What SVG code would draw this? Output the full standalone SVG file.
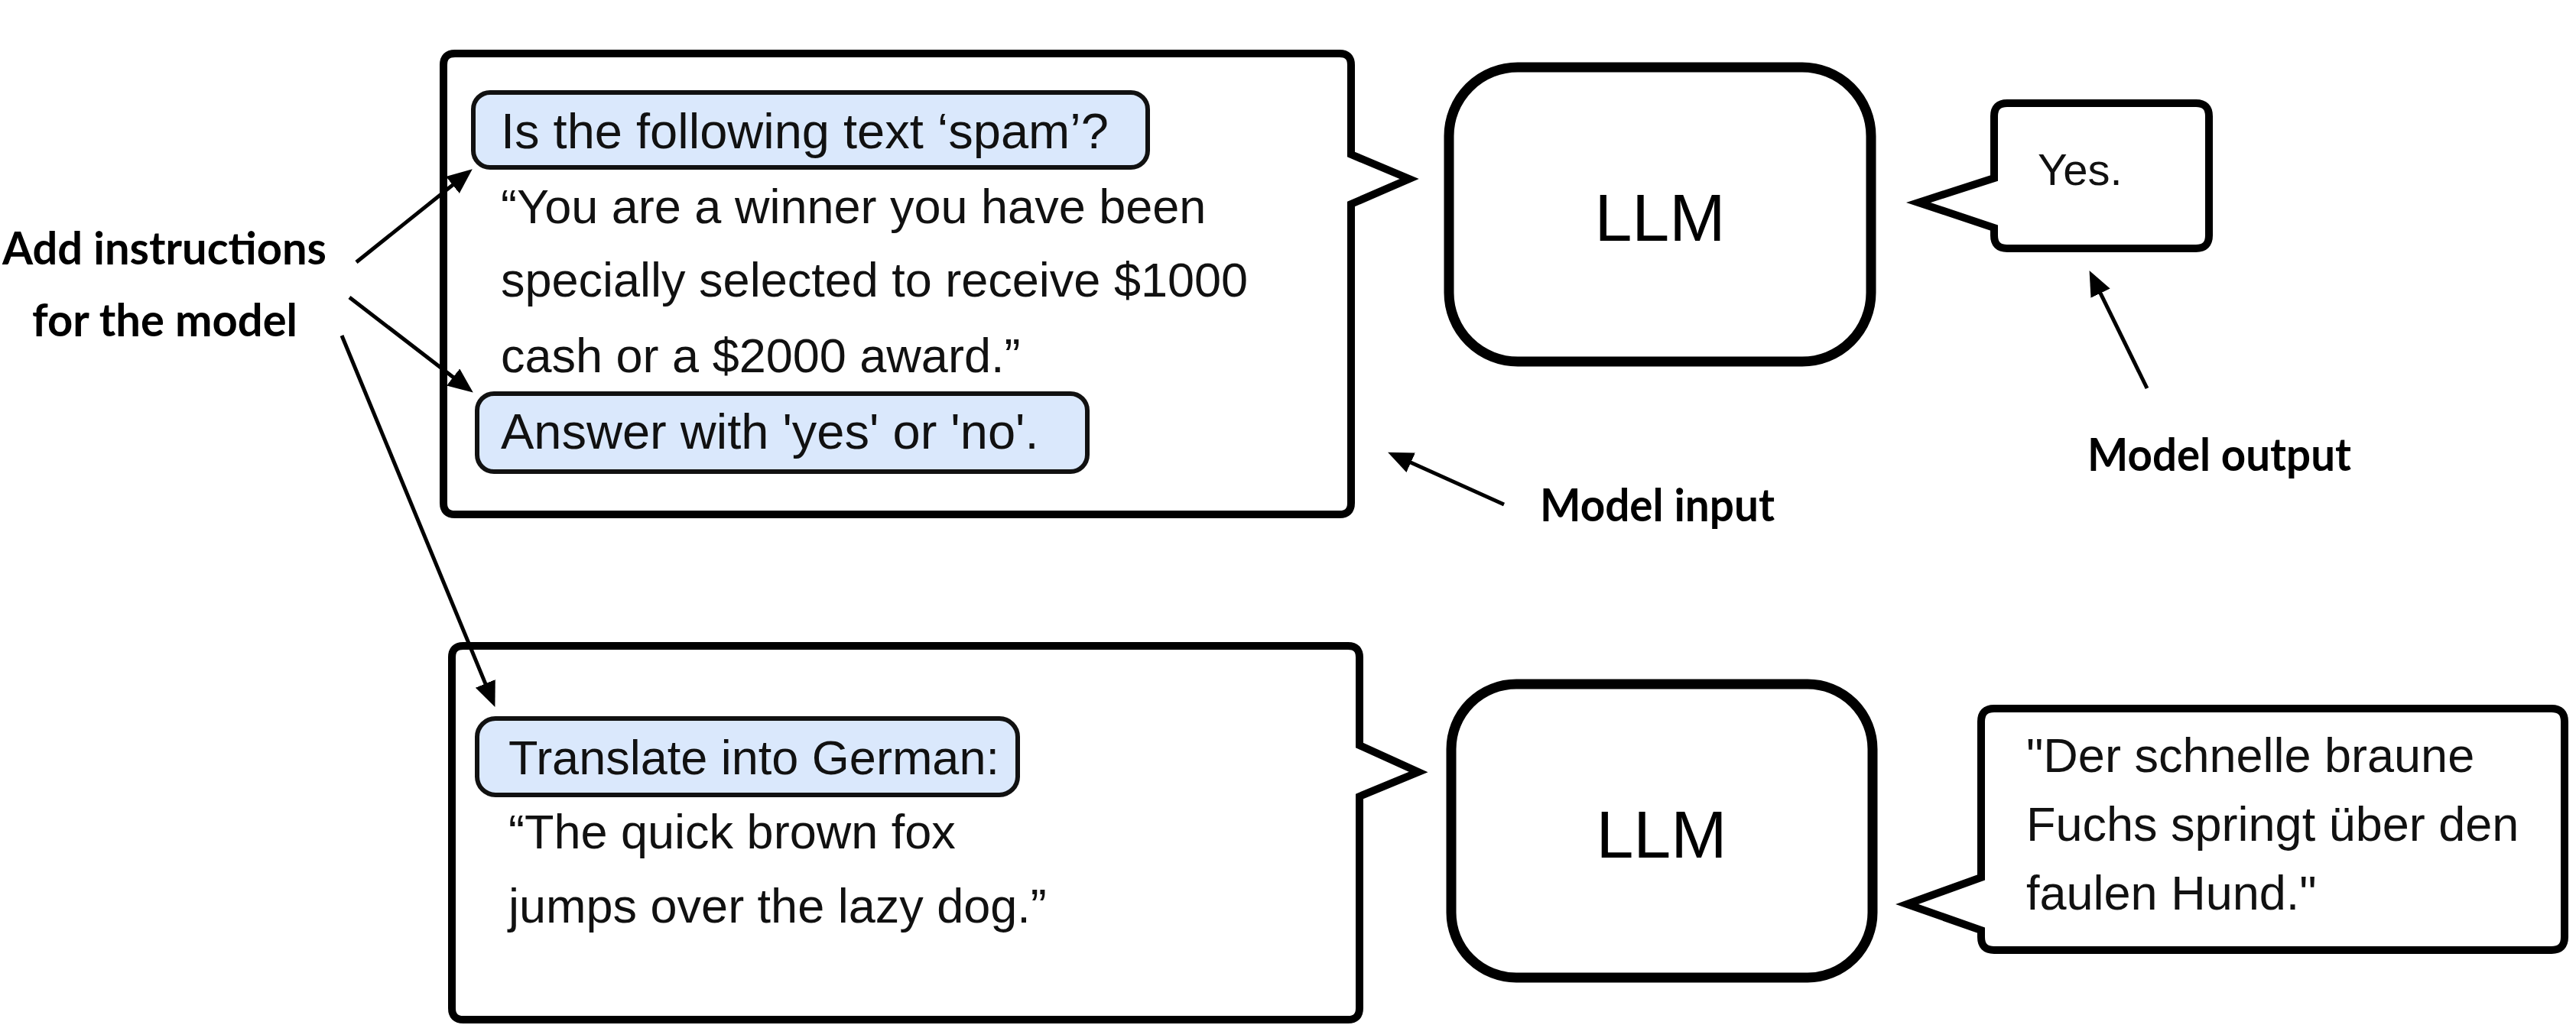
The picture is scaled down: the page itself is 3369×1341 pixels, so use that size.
<svg xmlns="http://www.w3.org/2000/svg" width="3369" height="1341" viewBox="0 0 3369 1341">
  <style>
    .bubble { fill: #ffffff; stroke: #000000; stroke-width: 10; stroke-linejoin: miter; }
    .llm { fill: #ffffff; stroke: #000000; stroke-width: 13; }
    .instr { fill: #dae8fc; stroke: #111111; stroke-width: 6; }
    .t { font-family: "Liberation Sans", Arial, Helvetica, sans-serif; font-size: 63px; fill: #111111; }
    .ti { font-size: 65px; }
    .llmt { font-family: "Liberation Sans", Arial, Helvetica, sans-serif; font-size: 88px; fill: #000000; text-anchor: middle; }
    .lbl { font-family: Lato, "Open Sans", "Liberation Sans", sans-serif; font-weight: 700; font-size: 60px; fill: #000000; }
    .conn { stroke: #000000; stroke-width: 5; fill: none; marker-end: url(#ah); }
  </style>
  <defs>
    <marker id="ah" markerUnits="userSpaceOnUse" markerWidth="36" markerHeight="30" refX="7" refY="14" orient="auto">
      <path d="M0,0 L33,14 L0,28 Z" fill="#000000"/>
    </marker>
  </defs>
  <rect x="0" y="0" width="3369" height="1341" fill="#ffffff"/>

  <g id="label-instructions">
    <text class="lbl" x="3" y="346" textLength="424" lengthAdjust="spacingAndGlyphs">Add instructions</text>
    <text class="lbl" x="42" y="440" textLength="347" lengthAdjust="spacingAndGlyphs">for the model</text>
  </g>

  <g id="input-top">
    <path class="bubble" d="M595,70 H1752 Q1767,70 1767,85 V202 L1843,234 L1767,267 V658 Q1767,673 1752,673 H595 Q580,673 580,658 V85 Q580,70 595,70 Z"/>
    <rect class="instr" x="619" y="121" width="882" height="98" rx="22" ry="22"/>
    <text class="t ti" x="655" y="194">Is the following text ‘spam’?</text>
    <text class="t" x="655" y="292">“You are a winner you have been</text>
    <text class="t" x="655" y="388">specially selected to receive $1000</text>
    <text class="t" x="655" y="487">cash or a $2000 award.”</text>
    <rect class="instr" x="624" y="515" width="798" height="102" rx="22" ry="22"/>
    <text class="t ti" x="655" y="587">Answer with 'yes' or 'no'.</text>
  </g>

  <g id="llm-top">
    <rect class="llm" x="1895" y="88" width="552" height="385" rx="90" ry="90"/>
    <text class="llmt" x="2171" y="315">LLM</text>
  </g>

  <g id="output-top">
    <path class="bubble" d="M2625,135 H2872 Q2889,135 2889,152 V308 Q2889,325 2872,325 H2625 Q2608,325 2608,308 V298 L2509,265 L2608,233 V152 Q2608,135 2625,135 Z"/>
    <text class="t" x="2665" y="242" style="font-size:58px">Yes.</text>
  </g>

  <g id="label-model-input">
    <text class="lbl" x="2014" y="682" textLength="307" lengthAdjust="spacingAndGlyphs">Model input</text>
  </g>

  <g id="label-model-output">
    <text class="lbl" x="2730" y="616" textLength="345" lengthAdjust="spacingAndGlyphs">Model output</text>
  </g>

  <g id="input-bottom">
    <path class="bubble" d="M606,845 H1763 Q1778,845 1778,860 V975 L1855,1010 L1778,1042 V1319 Q1778,1334 1763,1334 H606 Q591,1334 591,1319 V860 Q591,845 606,845 Z"/>
    <rect class="instr" x="624" y="940" width="707" height="100" rx="24" ry="24"/>
    <text class="t" x="665" y="1013">Translate into German:</text>
    <text class="t" x="665" y="1110">“The quick brown fox</text>
    <text class="t" x="665" y="1207">jumps over the lazy dog.”</text>
  </g>

  <g id="llm-bottom">
    <rect class="llm" x="1898" y="895" width="551" height="384" rx="85" ry="85"/>
    <text class="llmt" x="2173" y="1122">LLM</text>
  </g>

  <g id="output-bottom">
    <path class="bubble" d="M2608,927 H3337 Q3354,927 3354,944 V1226 Q3354,1243 3337,1243 H2608 Q2591,1243 2591,1226 V1217 L2494,1183 L2591,1148 V944 Q2591,927 2608,927 Z"/>
    <text class="t" x="2650" y="1010">"Der schnelle braune</text>
    <text class="t" x="2650" y="1100">Fuchs springt über den</text>
    <text class="t" x="2650" y="1190">faulen Hund."</text>
  </g>

  <g id="connectors">
    <line class="conn" x1="466" y1="343" x2="597.5" y2="237.6"/>
    <line class="conn" x1="457" y1="389" x2="598.2" y2="497.7"/>
    <line class="conn" x1="447" y1="439" x2="637.5" y2="900.9"/>
    <line class="conn" x1="1967" y1="660" x2="1838.8" y2="602.3"/>
    <line class="conn" x1="2808" y1="508" x2="2744" y2="377.4"/>
  </g>
</svg>
